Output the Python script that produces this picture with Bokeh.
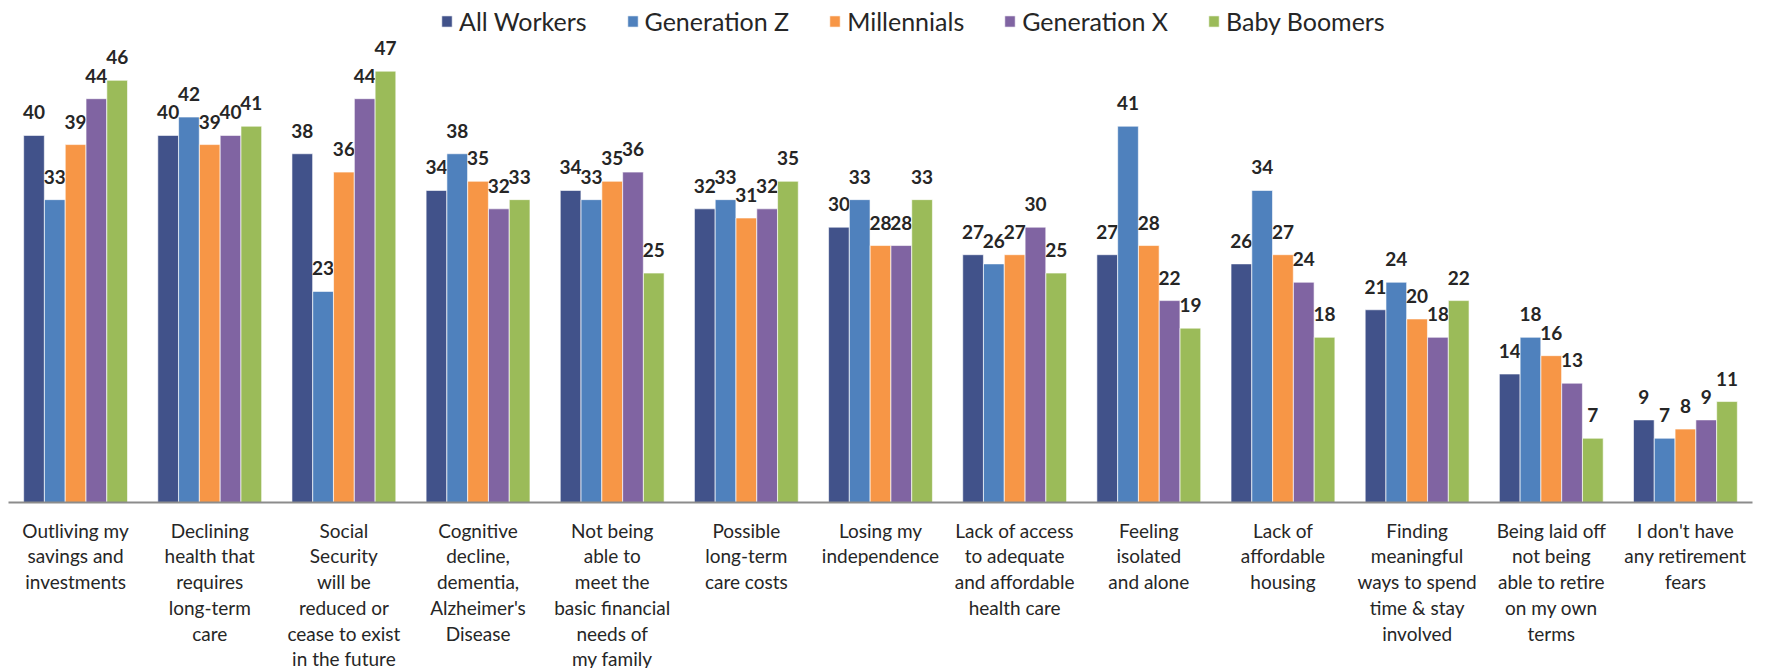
from bokeh.plotting import figure
from bokeh.models import ColumnDataSource, FactorRange, Range1d
from bokeh.transform import dodge
from bokeh.embed import file_html
from bokeh.resources import INLINE
from bokeh.core.properties import value

categories = [
    "Outliving my\nsavings and\ninvestments",
    "Declining\nhealth that\nrequires\nlong-term\ncare",
    "Social\nSecurity\nwill be\nreduced or\ncease to exist\nin the future",
    "Cognitive\ndecline,\ndementia,\nAlzheimer's\nDisease",
    "Not being\nable to\nmeet the\nbasic financial\nneeds of\nmy family",
    "Possible\nlong-term\ncare costs",
    "Losing my\nindependence",
    "Lack of access\nto adequate\nand affordable\nhealth care",
    "Feeling\nisolated\nand alone",
    "Lack of\naffordable\nhousing",
    "Finding\nmeaningful\nways to spend\ntime & stay\ninvolved",
    "Being laid off\nnot being\nable to retire\non my own\nterms",
    "I don't have\nany retirement\nfears",
]
series_names = ["All Workers", "Generation Z", "Millennials", "Generation X", "Baby Boomers"]
all_workers = [40, 40, 38, 34, 34, 32, 30, 27, 27, 26, 21, 14, 9]
generation_z = [33, 42, 23, 38, 33, 33, 33, 26, 41, 34, 24, 18, 7]
millennials = [39, 39, 36, 35, 35, 31, 28, 27, 28, 27, 20, 16, 8]
generation_x = [44, 40, 44, 32, 36, 32, 28, 30, 22, 24, 18, 13, 9]
baby_boomers = [46, 41, 47, 33, 25, 35, 33, 25, 19, 18, 22, 7, 11]

colors = ["#41528A", "#4F81BD", "#F79646", "#8064A2", "#9BBB59"]
keys = ["aw", "gz", "mi", "gx", "bb"]
series = [all_workers, generation_z, millennials, generation_x, baby_boomers]

data = {"cat": categories}
for k, s in zip(keys, series):
    data[k] = s
    data[k + "_lbl"] = [str(v) for v in s]
source = ColumnDataSource(data)

p = figure(
    x_range=FactorRange(factors=categories, range_padding=0),
    y_range=Range1d(0, 54.7),
    frame_width=1744, frame_height=502,
    output_backend="svg", toolbar_location=None,
    min_border_left=8, min_border_right=5, min_border_top=0, min_border_bottom=0,
)
p.outline_line_color = None
p.grid.grid_line_color = None
p.yaxis.visible = False

offsets = [-0.31, -0.155, 0.0, 0.155, 0.31]
bw = 0.154
for k, name, c, off in zip(keys, series_names, colors, offsets):
    p.vbar(x=dodge("cat", off, range=p.x_range), top=k, width=bw, source=source,
           fill_color=c, line_color="white", line_width=0.6, legend_label=name)
    p.text(x=dodge("cat", off, range=p.x_range), y=k, text=k + "_lbl", source=source,
           text_align="center", text_baseline="alphabetic", y_offset=-23,
           text_font=value("Lato"), text_font_style="bold", text_font_size="19px",
           text_color="#262626")

ax = p.xaxis[0]
ax.axis_line_color = "#8C8C8C"
ax.axis_line_width = 2
ax.major_tick_line_color = None
ax.minor_tick_line_color = None
ax.major_label_standoff = 10
ax.major_label_text_font = "Lato"
ax.major_label_text_font_size = "19px"
ax.major_label_text_color = "#262626"
ax.major_label_text_line_height = 1.12
ax.major_label_orientation = "horizontal"

lg = p.legend[0]
lg.location = (432, 466)
lg.orientation = "horizontal"
lg.border_line_color = None
lg.background_fill_alpha = 0
lg.margin = 0
lg.padding = 2
lg.spacing = 39
lg.label_standoff = 6
lg.glyph_width = 13
lg.glyph_height = 14
lg.label_text_font = "Lato"
lg.label_text_font_size = "25px"
lg.label_text_color = "#262626"

open("out.html", "w").write(file_html(p, INLINE))
